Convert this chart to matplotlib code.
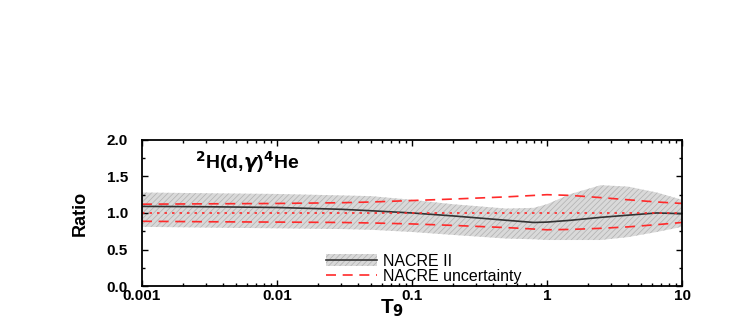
import numpy as np
import matplotlib
matplotlib.use('Agg')
import matplotlib.pyplot as plt
from matplotlib.patches import Patch
from matplotlib.lines import Line2D

plt.rcParams['font.family'] = ['Liberation Sans', 'DejaVu Sans']
plt.rcParams['font.weight'] = 'bold'
plt.rcParams['hatch.color'] = '#9a9a9a'
plt.rcParams['hatch.linewidth'] = 0.5

# temperature grid (T9) and ratios
t9 = [0.001, 0.003, 0.01, 0.03, 0.05, 0.1, 0.2, 0.5, 0.8, 1.0, 1.5, 2.5, 4.0, 6.5, 10.0]
central = [1.09, 1.085, 1.075, 1.05, 1.03, 1.0, 0.96, 0.9, 0.87, 0.875, 0.9, 0.94, 0.97, 1.0, 0.99]
band_hi = [1.28, 1.27, 1.26, 1.24, 1.23, 1.18, 1.12, 1.06, 1.07, 1.12, 1.26, 1.38, 1.36, 1.28, 1.18]
band_lo = [0.81, 0.80, 0.79, 0.78, 0.77, 0.74, 0.70, 0.65, 0.64, 0.63, 0.63, 0.63, 0.67, 0.74, 0.81]
nacre_hi = [1.12, 1.125, 1.13, 1.14, 1.15, 1.17, 1.19, 1.22, 1.24, 1.25, 1.24, 1.21, 1.18, 1.15, 1.13]
nacre_lo = [0.886, 0.88, 0.875, 0.87, 0.863, 0.85, 0.83, 0.80, 0.78, 0.77, 0.775, 0.79, 0.81, 0.84, 0.87]

fig = plt.figure(figsize=(7.47, 3.2), dpi=100)
ax = fig.add_axes([0.190, 0.106, 0.723, 0.457])

ax.fill_between(t9, band_lo, band_hi, facecolor='#d9d9d9', edgecolor='#b0b0b0',
                hatch='//////', linewidth=0)
ax.plot(t9, central, color='#333333', lw=1.2)
ax.plot(t9, nacre_hi, color='#ff2a2a', lw=1.2, ls=(0, (6, 4)))
ax.plot(t9, nacre_lo, color='#ff2a2a', lw=1.2, ls=(0, (6, 4)))
ax.plot([0.001, 10], [1.0, 1.0], color='#ff2a2a', lw=1.2, ls=(0, (1.5, 3)))

ax.set_xscale('log')
ax.set_xlim(0.001, 10)
ax.set_ylim(0, 2)
ax.set_xticks([0.001, 0.01, 0.1, 1, 10])
ax.set_xticklabels(['0.001', '0.01', '0.1', '1', '10'])
ax.set_yticks([0.0, 0.5, 1.0, 1.5, 2.0])
ax.set_yticklabels(['0.0', '0.5', '1.0', '1.5', '2.0'])
ax.set_yticks(np.arange(0.25, 2.0, 0.5), minor=True)
ax.tick_params(which='both', direction='in', top=True, right=True, labelsize=11, width=1)
ax.tick_params(which='major', length=4)
ax.tick_params(which='minor', length=2.5)
ax.tick_params(axis='y', pad=10)
ax.tick_params(axis='x', pad=2)
for s in ax.spines.values():
    s.set_linewidth(1.3)

ax.set_ylabel('Ratio', fontsize=13, fontweight='bold',
              family=['Liberation Sans Narrow', 'Liberation Sans'])
ax.yaxis.set_label_coords(-0.098, 0.5)
ax.set_xlabel(r'T$_\mathbf{9}$', fontsize=15, fontweight='bold')
ax.xaxis.set_label_coords(0.463, -0.075)
ax.xaxis.label.set_va('top')
ax.text(0.00246, 1.70, r'$^\mathbf{2}$H(d,$\gamma$)$^\mathbf{4}$He', fontsize=14,
        fontweight='bold', ha='left', va='center')

h1 = (Patch(facecolor='#d9d9d9', edgecolor='#b0b0b0', hatch='//////', linewidth=0),
      Line2D([], [], color='#333333', lw=1.2))
h2 = Line2D([], [], color='#ff2a2a', lw=1.2, ls=(0, (6, 4)))
ax.legend([h1, h2], ['NACRE II', 'NACRE uncertainty'], loc='center left',
          bbox_to_anchor=(0.34, 0.12), frameon=False,
          handlelength=3.2, handletextpad=0.4, labelspacing=0.0,
          borderpad=0, borderaxespad=0,
          prop={'weight': 'normal', 'size': 11.5})

fig.savefig('out.png', dpi=100)
